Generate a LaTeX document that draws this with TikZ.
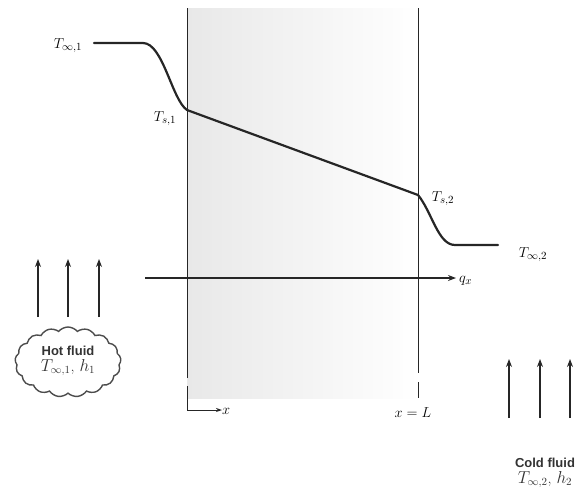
\documentclass[tikz,border=0pt]{standalone}
\usepackage{fontspec}
\newfontfamily\labelsans{Liberation Sans}
\usetikzlibrary{arrows.meta,shapes.symbols}
\begin{document}
\begin{tikzpicture}[x=1pt,y=-1pt,
  wall/.style={line width=0.9pt,black!85},
  profile/.style={line width=2.2pt,black!85,line cap=round},
  flow/.style={line width=1.1pt,black!85,-{Stealth[length=8pt,width=6pt]}},
  lab/.style={inner sep=1pt,font=\fontsize{15}{17}\selectfont},
  fluidtxt/.style={align=center,font=\labelsans\bfseries\fontsize{13}{17}\selectfont,black!80}]
\useasboundingbox (0,0) rectangle (583,493);
% wall region
\shade[left color=black!9,right color=white,draw=none] (187,8) rectangle (418,398);
% walls
\coordinate (w1top) at (187,8);
\coordinate (w1bot) at (187,378);
\coordinate (w2top) at (418,8);
\coordinate (w2bot) at (418,373);
\draw[wall] (w1top) -- (w1bot);
\draw[wall] (w2top) -- (w2bot);
\draw[wall] (418,382) -- (418,398);
% x axis
\coordinate (xo) at (187,386);
\coordinate (xe) at (222,410);
\draw[wall,-{Stealth[length=6pt,width=4pt]}] (xo) |- (xe);
\node[lab,anchor=west,inner sep=0pt] (xl) at (222,411) {$x$};
\node[lab] (xL) at (413,413) {$x=L$};
% temperature profile
\coordinate (p0) at (94,43);
\coordinate (p1) at (143,43);
\coordinate (s1) at (187,110);
\coordinate (s2) at (418,195);
\coordinate (p2) at (455,245);
\coordinate (p3) at (498,245);
\draw[profile] (p0) -- (p1) .. controls (163,43) and (172,100) .. (s1) -- (s2) .. controls (432,212) and (438,245) .. (p2) -- (p3);
\node[lab] (Tinf1) at (68,46) {$T_{\infty,1}$};
\node[lab] (Ts1) at (165,119) {$T_{s,1}$};
\node[lab] (Ts2) at (443,199) {$T_{s,2}$};
\node[lab] (Tinf2) at (533,255) {$T_{\infty,2}$};
% heat flux
\coordinate (qs) at (145,278);
\coordinate (qe) at (456,278);
\draw[flow] (qs) -- (qe);
\node[lab,anchor=west] (qx) at (458,281) {$q_x$};
% hot fluid
\foreach \xx/\nm in {38/ha,68/hb,99/hc}{
  \coordinate (\nm s) at (\xx,317);
  \coordinate (\nm e) at (\xx,259);
  \draw[flow] (\nm s) -- (\nm e);
}
\node[cloud,cloud puffs=17,cloud puff arc=100,aspect=1.7,draw=black!70,line width=1.4pt,
  minimum width=106pt,minimum height=70pt,inner sep=0pt] (cloudhot) at (68,362) {};
\node[fluidtxt] (hot) at (68,361) {Hot fluid\\[-1pt]{\normalfont\fontsize{16}{18}\selectfont $T_{\infty,1}$, $h_1$}};
% cold fluid
\foreach \xx/\nm in {509/ca,540/cb,570/cc}{
  \coordinate (\nm s) at (\xx,418);
  \coordinate (\nm e) at (\xx,359);
  \draw[flow] (\nm s) -- (\nm e);
}
\node[fluidtxt] (cold) at (545,473) {Cold fluid\\[-1pt]{\normalfont\fontsize{16}{18}\selectfont $T_{\infty,2}$, $h_2$}};
\end{tikzpicture}
\end{document}
